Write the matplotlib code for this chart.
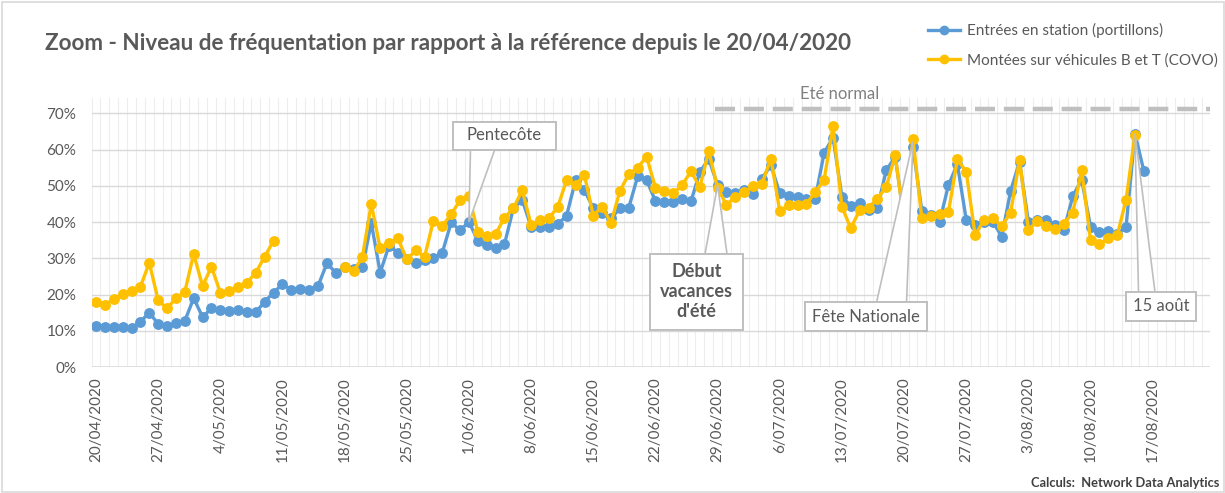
import numpy as np
import pandas as pd
import matplotlib
matplotlib.use("Agg")
import matplotlib.pyplot as plt
from matplotlib.patches import Polygon, Rectangle
from matplotlib.ticker import PercentFormatter
from matplotlib.lines import Line2D

plt.rcParams['font.family'] = ['Lato', 'DejaVu Sans']

# ---------------- data ----------------
start_date = "2020-04-20"
n_days = 119
dates = pd.date_range(start_date, periods=n_days, freq="D")

entrees = [
    11.5, 11.0, 11.0, 11.0, 10.7, 12.6, 15.0, 12.0, 11.4, 12.1,
    12.8, 19.0, 13.9, 16.2, 15.7, 15.4, 15.8, 15.2, 15.2, 18.1,
    20.6, 22.9, 21.4, 21.7, 21.4, 22.4, 28.6, 26.1, 27.5, 27.0,
    27.5, 39.8, 26.1, 33.5, 31.6, 29.7, 28.8, 29.6, 30.2, 31.6,
    39.9, 37.7, 40.1, 34.8, 33.8, 33.0, 33.9, 43.8, 46.1, 38.7,
    38.6, 38.6, 39.4, 41.8, 51.5, 48.8, 43.8, 42.4, 41.0, 43.8,
    44.0, 52.6, 51.6, 45.8, 45.5, 45.5, 46.4, 45.7, 53.8, 57.4,
    50.2, 48.4, 47.9, 48.8, 47.7, 52.0, 55.7, 47.9, 47.2, 46.8,
    46.3, 46.5, 59.1, 63.3, 47.0, 44.4, 45.3, 43.3, 44.0, 54.3,
    58.0, 41.0, 60.6, 43.1, 41.9, 40.1, 50.2, 56.0, 40.6, 39.2,
    40.1, 40.1, 36.0, 48.6, 56.6, 40.1, 40.6, 40.6, 39.2, 37.8,
    47.2, 51.7, 38.7, 37.3, 37.6, 36.7, 38.7, 64.4, 54.1,
]

nan = np.nan
montees = [
    18.1, 17.2, 18.8, 20.2, 21.0, 22.2, 28.8, 18.5, 16.2, 19.0,
    20.8, 31.2, 22.4, 27.7, 20.6, 21.0, 22.0, 23.3, 26.1, 30.5,
    34.9, nan, nan, nan, nan, nan, nan, nan, 27.6, 26.4,
    30.4, 45.0, 32.8, 34.2, 35.5, 29.7, 32.2, 30.4, 40.4, 38.9,
    42.2, 46.0, 47.3, 37.2, 36.1, 36.7, 41.2, 43.8, 48.8, 39.2,
    40.6, 41.0, 44.2, 51.6, 50.2, 53.0, 41.8, 44.2, 39.8, 48.6,
    53.2, 55.0, 58.0, 49.5, 48.5, 47.9, 50.2, 54.0, 49.6, 59.6,
    49.4, 44.7, 47.0, 48.3, 49.9, 50.6, 57.5, 43.0, 44.7, 44.7,
    45.1, 48.2, 51.7, 66.4, 44.2, 38.3, 43.3, 44.0, 46.5, 49.7,
    58.4, 40.0, 62.8, 41.0, 41.7, 42.2, 42.8, 57.3, 53.9, 36.4,
    40.6, 41.0, 38.9, 42.6, 57.2, 37.8, 40.3, 38.9, 38.0, 39.6,
    42.6, 54.3, 35.0, 33.9, 35.5, 36.4, 46.1, 64.1, nan,
]

tick_labels = ["20/04/2020", "27/04/2020", "4/05/2020", "11/05/2020", "18/05/2020",
               "25/05/2020", "1/06/2020", "8/06/2020", "15/06/2020", "22/06/2020",
               "29/06/2020", "6/07/2020", "13/07/2020", "20/07/2020", "27/07/2020",
               "3/08/2020", "10/08/2020", "17/08/2020"]
y_ticks = [0, 10, 20, 30, 40, 50, 60, 70]
ete_normal = 71.2
ete_normal_start = "2020-06-29"

series_names = ["Entrées en station (portillons)", "Montées sur véhicules B et T (COVO)"]

# ---------------- figure ----------------
W, H = 1225, 493
fig = plt.figure(figsize=(W / 100, H / 100), dpi=100)
fig.patch.set_facecolor("white")

x0_px, day_px = 96.0, 8.88
y0_px, pct_px = 367.3, 3.63
xmin, xmax = -0.5, 125.5
ytop = (y0_px - 98) / pct_px
left = (x0_px + xmin * day_px) / W
right = (x0_px + xmax * day_px) / W
bottom = 1 - y0_px / H
top = 1 - 98 / H
ax = fig.add_axes([left, bottom, right - left, top - bottom])

def px2x(px):
    return (px - x0_px) / day_px

def py2y(py):
    return (y0_px - py) / pct_px

x = (dates - pd.Timestamp(start_date)).days.values

blue = "#5B9BD5"
yellow = "#FFC000"
gray_txt = "#595959"

ax.plot(x, entrees, color=blue, lw=2.4, marker="o", ms=6.8, zorder=3,
        solid_joinstyle="round", label=series_names[0])
ax.plot(x, montees, color=yellow, lw=2.4, marker="o", ms=6.8, zorder=4,
        solid_joinstyle="round", label=series_names[1])

ax.set_xlim(xmin, xmax)
ax.set_ylim(0, ytop)

# gridlines
for d in np.arange(xmin, xmax + 0.01, 1.0):
    ax.axvline(d, color="#EDEDED", lw=0.8, zorder=0)
for v in y_ticks[1:]:
    ax.axhline(v, color="#D9D9D9", lw=1.0, zorder=1)
ax.axhline(0, color="#D9D9D9", lw=1.2, zorder=1)

for s in ax.spines.values():
    s.set_visible(False)

tick_pos = np.arange(0, n_days + 1, 7)[:len(tick_labels)]
ax.set_xticks(tick_pos)
ax.set_xticklabels(tick_labels, rotation=90, fontsize=11, color=gray_txt)
ax.set_yticks(y_ticks)
ax.yaxis.set_major_formatter(PercentFormatter(100, decimals=0))
ax.tick_params(axis="both", length=0, labelsize=11, labelcolor=gray_txt)
ax.tick_params(axis="y", pad=11)
ax.tick_params(axis="x", pad=7)

# Été normal line
xs = (pd.Timestamp(ete_normal_start) - pd.Timestamp(start_date)).days
ax.plot([xs - 0.3, xmax], [ete_normal, ete_normal], color="#BFBFBF", lw=3.2,
        ls=(0, (4.5, 2.0)), zorder=2, clip_on=False)
ax.text(px2x(840), py2y(94), "Eté normal", ha="center", va="center",
        fontsize=12, color="#808080", zorder=6)

# callouts
def callout(box, base, tip, text, bold=False, fs=12, ls=1.3):
    (bx0, by0, bx1, by1) = box
    poly = Polygon([(px2x(base[0]), py2y(base[2])), tip, (px2x(base[1]), py2y(base[2]))],
                   closed=True, facecolor="white", edgecolor="#BFBFBF", lw=1.2, zorder=7)
    ax.add_patch(poly)
    rect = Rectangle((px2x(bx0), py2y(by1)), px2x(bx1) - px2x(bx0), py2y(by0) - py2y(by1),
                     facecolor="white", edgecolor="#BFBFBF", lw=1.4, zorder=8, clip_on=False)
    ax.add_patch(rect)
    ax.text((px2x(bx0) + px2x(bx1)) / 2, (py2y(by0) + py2y(by1)) / 2, text,
            ha="center", va="center", fontsize=fs, color=gray_txt,
            fontweight="bold" if bold else "normal", zorder=9, linespacing=ls)

callout((453, 121.5, 556, 149.5), (470.5, 495, 149), (42, entrees[42]), "Pentecôte")
callout((650, 253.5, 743, 330), (705, 727, 254), (70, entrees[70]), "Début\nvacances\nd'été",
        bold=True, fs=13, ls=1.22)
callout((805, 302, 927, 331), (876.5, 906.5, 302.5), (92, montees[92] - 0.6), "Fête Nationale")
callout((1126, 291.5, 1196, 320.5), (1138.5, 1155, 292), (117, entrees[117]), "15 août")

# title
fig.text(45 / W, 1 - 43 / H, "Zoom - Niveau de fréquentation par rapport à la référence depuis le 20/04/2020",
         fontsize=16.2, fontweight="bold", color=gray_txt, ha="left", va="center")

# legend
handles = [Line2D([], [], color=blue, lw=2.4, marker="o", ms=6.0),
           Line2D([], [], color=yellow, lw=2.4, marker="o", ms=6.0)]
fig.legend(handles, series_names, loc="upper left", bbox_to_anchor=(928 / W, 1 - 23 / H),
           frameon=False, fontsize=11, labelcolor=gray_txt, handlelength=2.1,
           handletextpad=0.45, labelspacing=1.0, borderaxespad=0, borderpad=0)

# footnote
fig.text(1219 / W, 1 - 483 / H, "Calculs:  Network Data Analytics", fontsize=9.3,
         fontweight="bold", color="#404040", ha="right", va="center")

# outer border
fig.patches.append(Rectangle((1.5 / W, 1.5 / H), (W - 3) / W, (H - 3) / H,
                             transform=fig.transFigure, fill=False, edgecolor="#D9D9D9", lw=1.2))

fig.savefig("out.png", dpi=100)
